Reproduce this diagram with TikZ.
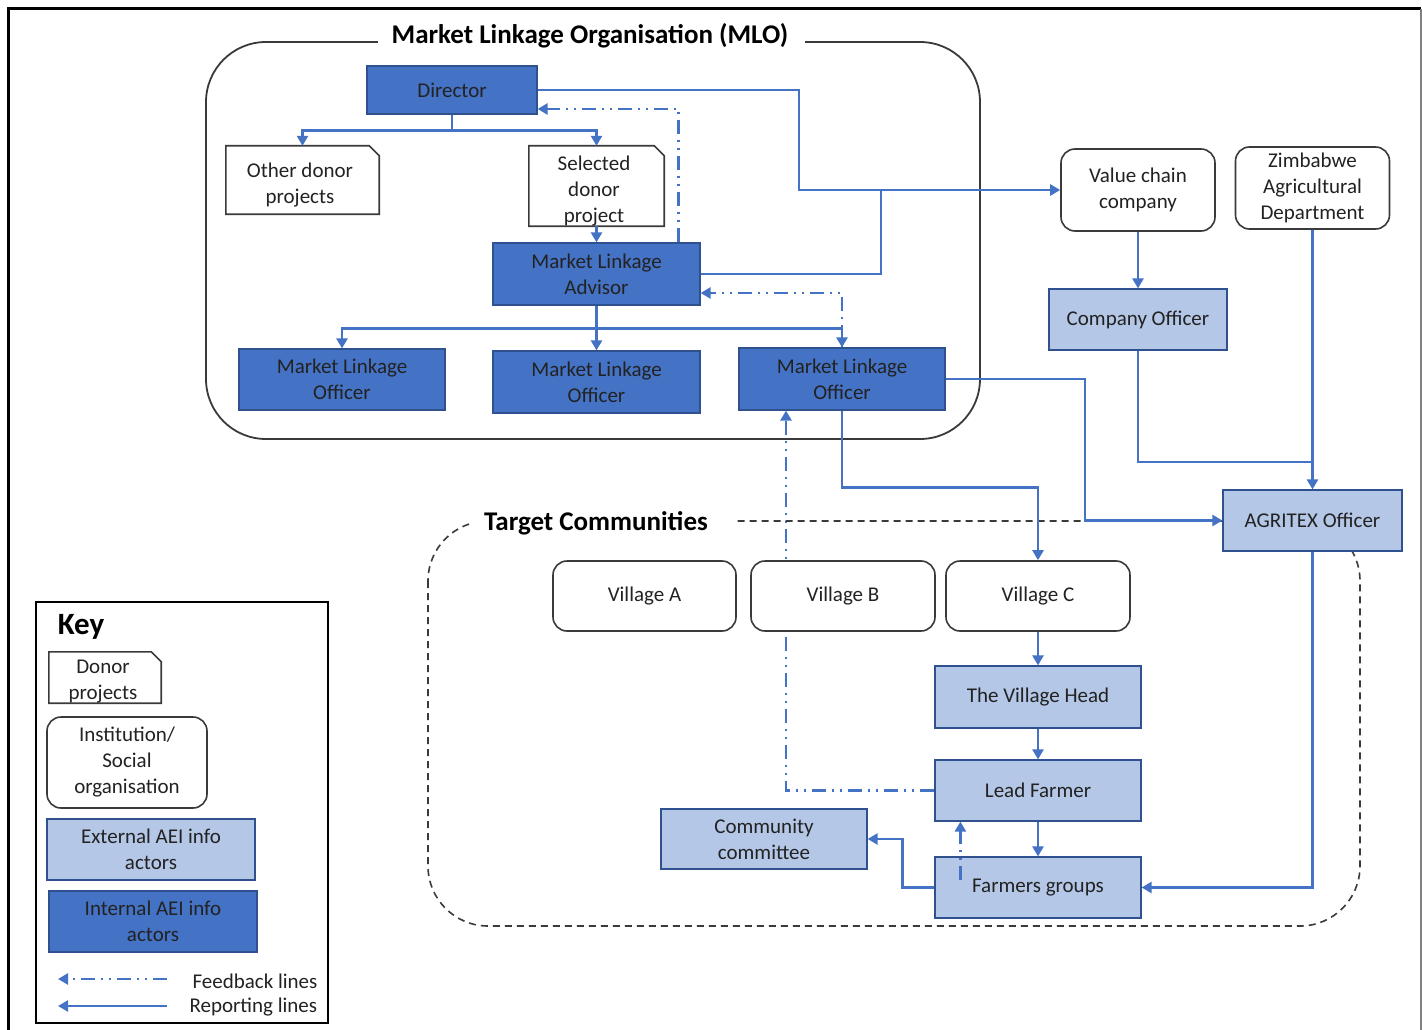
\documentclass[tikz,border=0pt]{standalone}
\usepackage{fontspec}
\setmainfont{Carlito}
\usetikzlibrary{arrows.meta,calc,backgrounds}
\definecolor{dkblue}{HTML}{4472C4}
\definecolor{edgeblue}{HTML}{2F528F}
\definecolor{ltblue}{HTML}{B4C7E7}
\definecolor{ink}{HTML}{222222}
\definecolor{frameline}{HTML}{3A3A3A}

\tikzset{
  every node/.style={font=\fontsize{21}{26}\selectfont, text=ink, align=center},
  box/.style={rectangle, inner sep=0pt},
  internal/.style={box, fill=dkblue, draw=edgeblue, line width=1.2pt},
  external/.style={box, fill=ltblue, draw=edgeblue, line width=1.2pt},
  inst/.style={box, draw=frameline, line width=1.6pt, rounded corners=14pt, fill=white},
  rep/.style={draw=dkblue, line width=2.4pt},
  fb/.style={draw=dkblue, line width=2.4pt, dash pattern=on 14pt off 6pt on 2pt off 6pt on 2pt off 6pt},
  tip/.style={-{Triangle[width=11pt,length=10pt]}},
  heading/.style={font=\fontsize{27}{32}\bfseries\selectfont, text=black},
}
% donor-project box with a clipped top-right corner
\newcommand\snipbox[1]{%
  \draw[frameline, line width=1.6pt] (#1.south west) -- (#1.north west)
    -- ($(#1.north east)+(-10,0)$) -- ($(#1.north east)+(0,10)$)
    -- (#1.south east) -- cycle;}

\begin{document}
\begin{tikzpicture}[x=1pt, y=-1pt]
\useasboundingbox (0,0) rectangle (1422,1030);

% page frame
\draw[black, line width=3pt] (8,1030) -- (8,9) -- (1421,9);
\draw[gray, line width=1.5pt] (1421,9) -- (1421,1030);

% Market Linkage Organisation frame
\draw[frameline, line width=1.8pt, rounded corners=60pt] (206,42) rectangle (980,439);
\fill[white] (378,20) rectangle (805,60);
\node[heading] (mlotitle) at (590,36) {Market Linkage Organisation (MLO)};

% Target Communities frame
\draw[frameline, line width=1.6pt, dash pattern=on 7pt off 5pt, rounded corners=60pt] (428,521) rectangle (1360,926);
\fill[white] (472,505) rectangle (735,540);
\node[heading] (tctitle) at (596,523) {Target Communities};

% MLO actors
\node[internal, minimum width=170pt, minimum height=48pt] (dir) at (452,90) {Director};
\node[box, minimum width=153pt, minimum height=68pt] (odp) at (302.5,180) {};
\snipbox{odp}
\node (odptext) at (300,185) {Other donor\\projects};
\node[box, minimum width=135pt, minimum height=80pt] (sdp) at (596.5,186) {};
\snipbox{sdp}
\node (sdptext) at (594,191) {Selected\\donor\\project};
\node[internal, minimum width=207pt, minimum height=62pt] (adv) at (596.5,274) {Market Linkage\\Advisor};
\node[internal, minimum width=206pt, minimum height=61pt] (mlo1) at (342,379.5) {Market Linkage\\Officer};
\node[internal, minimum width=207pt, minimum height=62pt] (mlo2) at (596.5,382) {Market Linkage\\Officer};
\node[internal, minimum width=206pt, minimum height=62pt] (mlo3) at (842,379) {Market Linkage\\Officer};

% external institutions
\node[inst, minimum width=154pt, minimum height=82pt] (vcc) at (1138,190) {Value chain\\company};
\node[inst, minimum width=154pt, minimum height=82pt] (zad) at (1312.5,188) {Zimbabwe\\Agricultural\\Department};
\node[external, minimum width=178pt, minimum height=61pt] (co) at (1138,319.5) {Company Officer};
\node[external, minimum width=179pt, minimum height=61pt] (agr) at (1312.5,520.5) {AGRITEX Officer};

% communities
\node[inst, minimum width=183pt, minimum height=70pt] (va) at (644.5,596) {Village A};
\node[inst, minimum width=184pt, minimum height=70pt] (vb) at (843,596) {Village B};
\node[inst, minimum width=184pt, minimum height=70pt] (vc) at (1038,596) {Village C};
\node[external, minimum width=206pt, minimum height=62pt] (vh) at (1038,697) {The Village Head};
\node[external, minimum width=206pt, minimum height=61pt] (lf) at (1038,790.5) {Lead Farmer};
\node[external, minimum width=206pt, minimum height=61pt] (fg) at (1038,887.5) {Farmers groups};
\node[external, minimum width=206pt, minimum height=60pt] (cc) at (764,839) {Community\\committee};

% reporting lines inside the MLO
\draw[rep] (dir.south) -- ++(0,16) coordinate (dj);
\draw[rep,tip] (dj) -| (odp.north);
\draw[rep,tip] (dj) -| (sdp.north);
\draw[rep,tip] (sdp.south) -- (adv.north);
\draw[rep] (adv.south) -- ++(0,23) coordinate (aj);
\draw[rep,tip] (aj) -| (mlo1.north);
\draw[rep,tip] (aj) -- (mlo2.north);
\draw[rep,tip] (aj) -| (mlo3.north);

% feedback lines inside the MLO
\draw[fb,tip] ($(adv.north east)+(-22,0)$) |- ($(dir.east)+(0,19)$);
\draw[fb,tip] (mlo3.north) |- ($(adv.east)+(0,19)$);

% links to external actors
\draw[rep,tip] (dir.east) -| (799,190) -- (vcc.west);
\draw[rep] (adv.east) -| (881,190);
\draw[rep,tip] (mlo3.east) -| (1085,520.5) -- (agr.west);
\draw[rep,tip] (mlo3.south) -- ++(0,77) -| (vc.north);
\draw[rep,tip] (vcc.south) -- (co.north);
\draw[rep] (co.south) |- (1312.5,462);
\draw[rep,tip] (zad.south) -- (agr.north);
\draw[rep,tip] (agr.south) |- (fg.east);

% community chain
\draw[rep,tip] (vc.south) -- (vh.north);
\draw[rep,tip] (vh.south) -- (lf.north);
\draw[rep,tip] (lf.south) -- (fg.north);
\draw[rep,tip] (fg.west) -- ++(-32,0) |- (cc.east);
\draw[fb,tip] ($(fg.west)+(26,-8)$) -- ($(lf.south west)+(26,0)$);
\begin{pgfonlayer}{background}
  \draw[fb,tip] (lf.west) -| ($(mlo3.south)+(-56,0)$);
\end{pgfonlayer}

% key
\draw[black, line width=1.8pt] (36,602) rectangle (328,1023);
\node[font=\fontsize{31}{34}\bfseries\selectfont, text=black] (keytitle) at (81,627) {Key};
\node[box, minimum width=112pt, minimum height=51pt] (kdon) at (105,677.5) {};
\snipbox{kdon}
\node (kdontext) at (103,682) {Donor\\projects};
\node[inst, minimum width=160pt, minimum height=91pt] (kinst) at (127,762.5) {Institution/\\Social\\organisation};
\node[external, minimum width=208pt, minimum height=61pt] (kext) at (151,849.5) {External AEI info\\actors};
\node[internal, minimum width=208pt, minimum height=61pt] (kint) at (153,921.5) {Internal AEI info\\actors};
\coordinate (kf1) at (167,979);
\coordinate (kf0) at (58,979);
\draw[fb,tip] (kf1) -- (kf0);
\node[anchor=west] (kfl) at (189,981) {Feedback lines};
\coordinate (kr1) at (167,1006);
\coordinate (kr0) at (58,1006);
\draw[rep,tip] (kr1) -- (kr0);
\node[anchor=west] (krl) at (186,1007) {Reporting lines};
\end{tikzpicture}
\end{document}
